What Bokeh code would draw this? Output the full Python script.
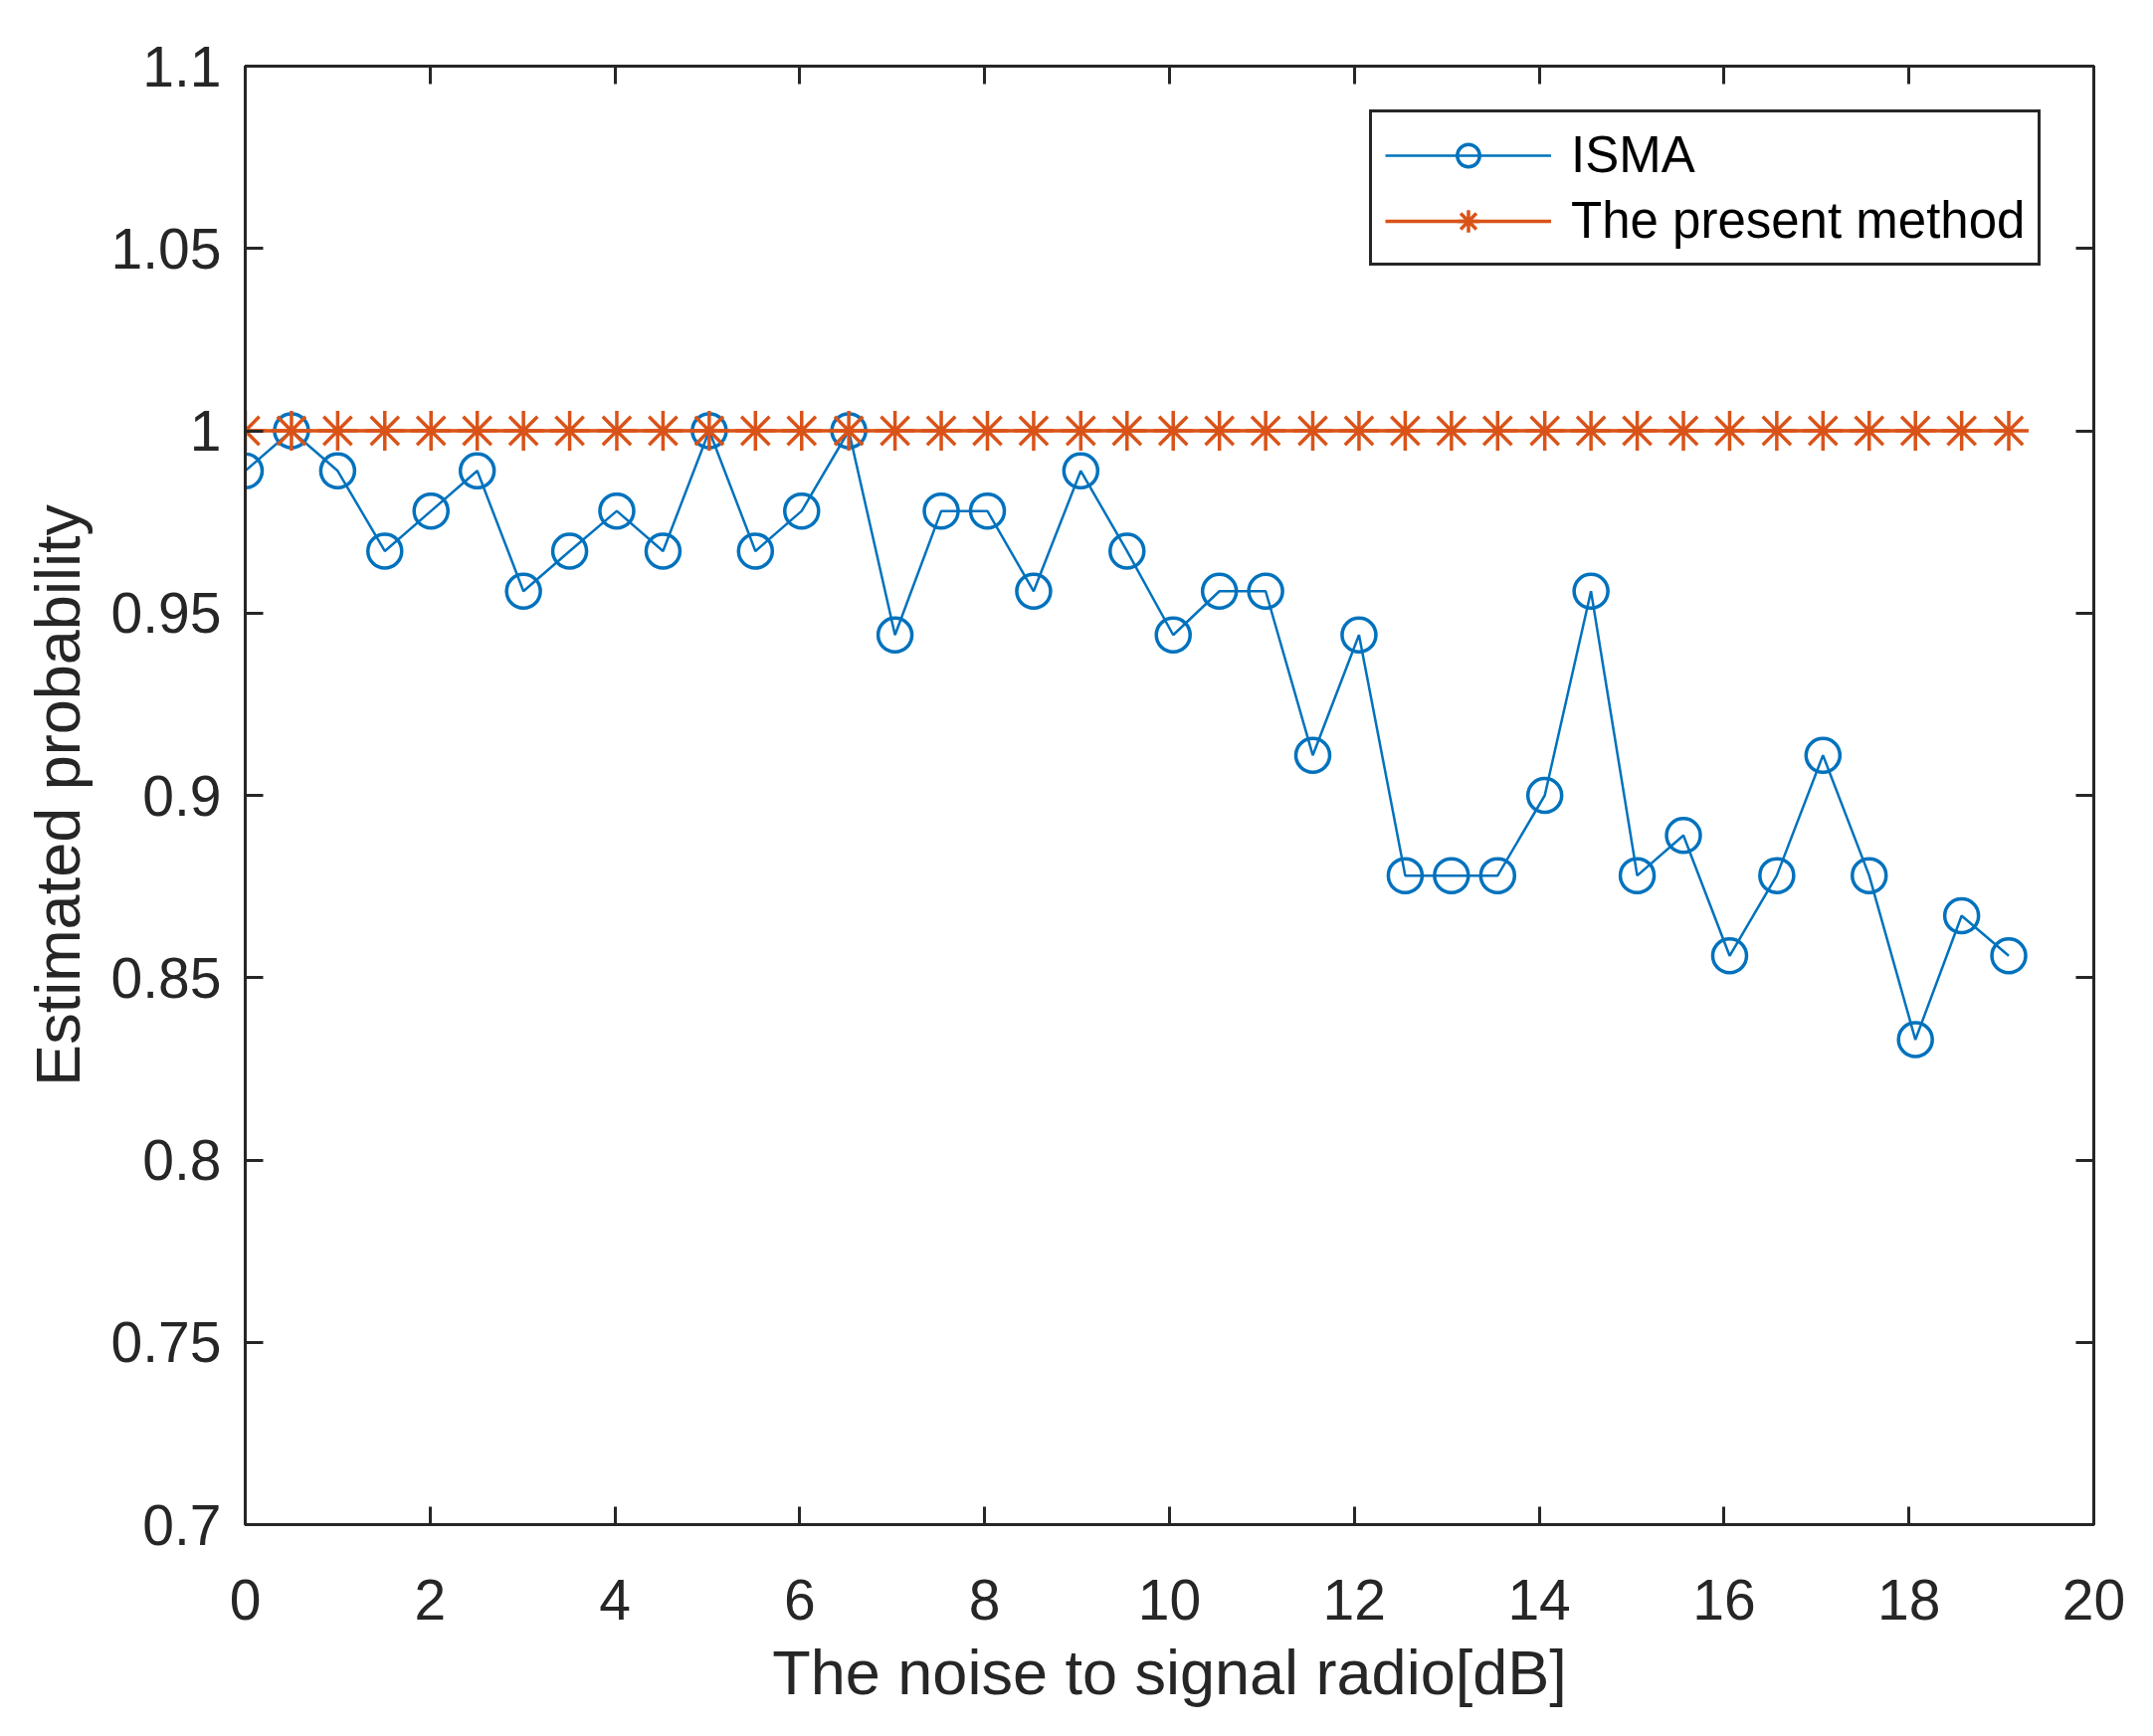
from bokeh.plotting import figure
from bokeh.models import LinearAxis, FixedTicker, Range1d, Legend, LegendItem
from bokeh.embed import file_html
from bokeh.resources import INLINE

# noise to signal ratio [dB]
snr_db = [0, 0.50, 1.00, 1.51, 2.01, 2.51, 3.01, 3.51, 4.02, 4.52,
          5.02, 5.52, 6.02, 6.53, 7.03, 7.53, 8.03, 8.53, 9.04, 9.54,
          10.04, 10.54, 11.04, 11.55, 12.05, 12.55, 13.05, 13.55, 14.06, 14.56,
          15.06, 15.56, 16.06, 16.57, 17.07, 17.57, 18.07, 18.57, 19.08]

# estimated probability of each method
isma = [0.989, 1.0, 0.989, 0.967, 0.978, 0.989, 0.956, 0.967, 0.978, 0.967,
        1.0, 0.967, 0.978, 1.0, 0.944, 0.978, 0.978, 0.956, 0.989, 0.967,
        0.944, 0.956, 0.956, 0.911, 0.944, 0.878, 0.878, 0.878, 0.900, 0.956,
        0.878, 0.889, 0.856, 0.878, 0.911, 0.878, 0.833, 0.867, 0.856]
present = [1.0, 1.0, 1.0, 1.0, 1.0, 1.0, 1.0, 1.0, 1.0, 1.0,
           1.0, 1.0, 1.0, 1.0, 1.0, 1.0, 1.0, 1.0, 1.0, 1.0,
           1.0, 1.0, 1.0, 1.0, 1.0, 1.0, 1.0, 1.0, 1.0, 1.0,
           1.0, 1.0, 1.0, 1.0, 1.0, 1.0, 1.0, 1.0, 1.0]

# axis ticks
x_ticks = [0, 2, 4, 6, 8, 10, 12, 14, 16, 18, 20]
y_ticks = [0.7, 0.75, 0.8, 0.85, 0.9, 0.95, 1.0, 1.05, 1.1]
y_tick_labels = ["0.7", "0.75", "0.8", "0.85", "0.9", "0.95", "1", "1.05", "1.1"]

BLUE = "#0072BD"
RED = "#D95319"
INK = "#262626"
FONT = "Liberation Sans"

p = figure(frame_width=1858, frame_height=1466,
           min_border_left=246, min_border_top=66,
           min_border_right=44, min_border_bottom=197,
           x_range=Range1d(0, 20), y_range=Range1d(0.7, 1.1),
           output_backend="svg", toolbar_location=None)
p.xgrid.grid_line_color = None
p.ygrid.grid_line_color = None
p.outline_line_color = INK
p.outline_line_width = 3
p.background_fill_color = "white"

# ISMA first, the present method drawn over it
l1 = p.line(snr_db, isma, line_color=BLUE, line_width=2.5)
s1 = p.scatter(snr_db, isma, marker="circle", size=34, fill_color=None,
               line_color=BLUE, line_width=3.5)
l2 = p.line(snr_db, present, line_color=RED, line_width=3.5)
s2 = p.scatter(snr_db, present, marker="asterisk", size=40,
               line_color=RED, line_width=3.5)

# extra axes so the ticks show on all four sides like a boxed matlab plot
top = LinearAxis(major_label_overrides={t: "" for t in x_ticks})
right = LinearAxis(major_label_overrides={t: "" for t in y_ticks})
p.add_layout(top, "above")
p.add_layout(right, "right")

bottom = p.below[0]
left = p.left[0]

for ax in (bottom, top):
    ax.ticker = FixedTicker(ticks=x_ticks)
for ax in (left, right):
    ax.ticker = FixedTicker(ticks=y_ticks)

for ax in (bottom, top, left, right):
    ax.axis_line_color = INK
    ax.axis_line_width = 3
    ax.major_tick_line_color = INK
    ax.major_tick_line_width = 3
    ax.major_tick_in = 18
    ax.major_tick_out = 0
    ax.minor_tick_line_color = None
    ax.major_label_text_font = FONT
    ax.major_label_text_font_size = "57px"
    ax.major_label_text_color = INK
    ax.axis_label_text_font = FONT
    ax.axis_label_text_font_size = "63px"
    ax.axis_label_text_font_style = "normal"
    ax.axis_label_text_color = INK

top.major_label_standoff = 0
right.major_label_standoff = 0

bottom.axis_label = "The noise to signal radio[dB]"
bottom.major_label_standoff = 55
bottom.axis_label_standoff = 15
left.axis_label = "Estimated probability"
left.major_label_standoff = 24
left.axis_label_standoff = 16
left.major_label_overrides = dict(zip(y_ticks, y_tick_labels))

legend = Legend(items=[LegendItem(label="ISMA", renderers=[l1, s1]),
                       LegendItem(label="The present method", renderers=[l2, s2])],
                location=(1130, 1265))
legend.border_line_color = INK
legend.border_line_width = 3
legend.border_line_alpha = 1
legend.background_fill_color = "white"
legend.background_fill_alpha = 1
legend.padding = 13
legend.spacing = 7
legend.margin = 0
legend.glyph_width = 167
legend.glyph_height = 56
legend.label_height = 56
legend.label_standoff = 20
legend.label_text_font = FONT
legend.label_text_font_size = "51px"
legend.label_text_color = "black"
p.add_layout(legend)

open("out.html", "w").write(file_html(p, INLINE))
